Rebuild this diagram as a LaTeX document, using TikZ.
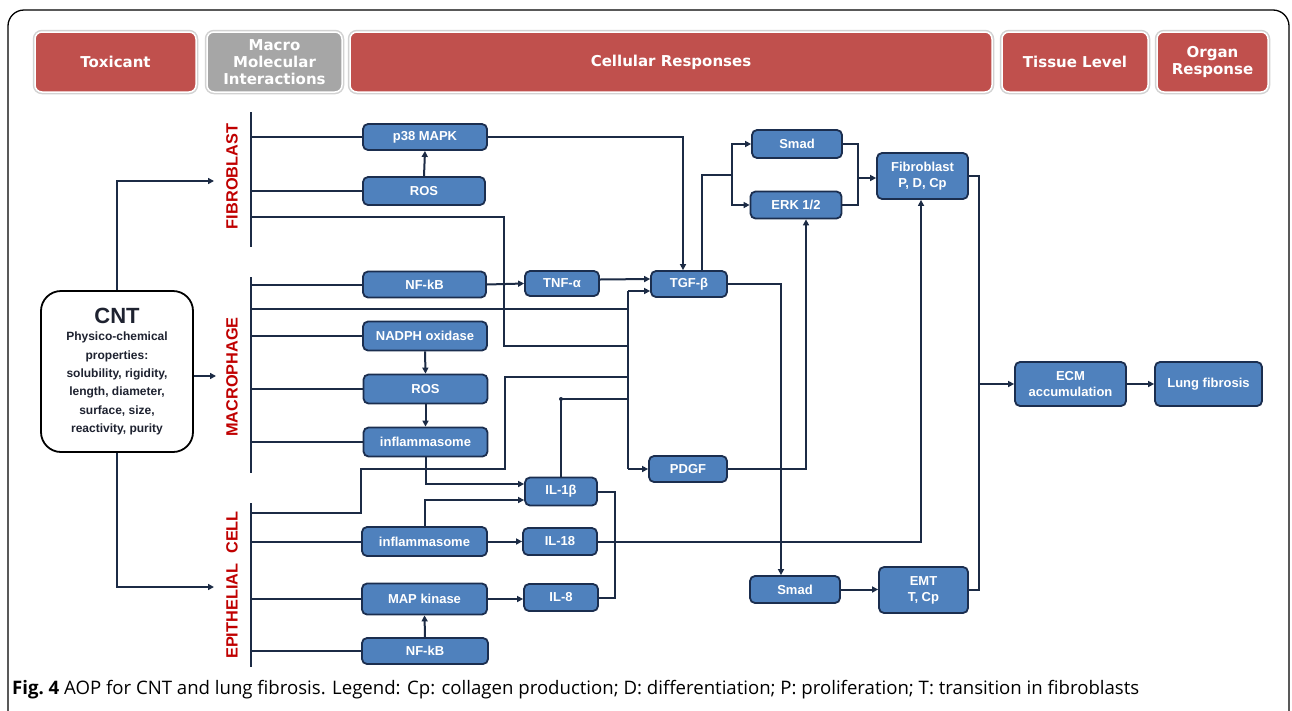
\documentclass[tikz,border=0pt]{standalone}
\usepackage{fontspec}
\setmainfont{Liberation Sans}
\newfontfamily\hdrfont{DejaVu Sans}
\newfontfamily\capfont{Open Sans}
\usetikzlibrary{arrows.meta,calc}
\definecolor{hred}{HTML}{C0504D}
\definecolor{hgray}{HTML}{A6A6A6}
\definecolor{hshadow}{HTML}{D2D2D2}
\definecolor{bblue}{HTML}{4F81BD}
\definecolor{bedge}{HTML}{1B2E4F}
\definecolor{lnc}{HTML}{1C2B45}
\definecolor{lblred}{HTML}{C00000}
\definecolor{cnttext}{HTML}{1E2230}
\begin{document}
\begin{tikzpicture}[x=1pt,y=-1pt,
  ln/.style={draw=lnc,line width=2pt},
  arr/.style={draw=lnc,line width=2pt,-{Triangle[length=6pt,width=6pt]}},
  bx/.style={rectangle,rounded corners=5pt,fill=bblue,draw=bedge,line width=1.8pt,
    text=white,font=\bfseries\fontsize{13}{16}\selectfont,inner sep=0pt,align=center},
  hdr/.style={rectangle,rounded corners=7pt,fill=hred,
    preaction={draw=hshadow,line width=4.5pt},draw=white,line width=1.5pt,
    text=white,font=\hdrfont\bfseries\fontsize{15}{17}\selectfont,inner sep=0pt,
    align=center,minimum height=60pt},
  vl/.style={rotate=90,text=lblred,font=\bfseries\fontsize{16.3}{18}\selectfont,inner sep=0pt},
]
\useasboundingbox (0,0) rectangle (1292,710);
\fill[white] (0,0) rectangle (1292,710);
% outer frame
\draw[black,line width=1.3pt,rounded corners=16pt] (8,740) -- (8,10) -- (1289,10) -- (1289,740);

% header
\node[hdr,minimum width=161pt] (h1) at (115.5,62) {Toxicant};
\node[hdr,fill=hgray,minimum width=135pt] (h2) at (274.5,62) {Macro\\Molecular\\Interactions};
\node[hdr,minimum width=642pt] (h3) at (671,62) {Cellular Responses};
\node[hdr,minimum width=146pt] (h4) at (1075,62) {Tissue Level};
\node[hdr,minimum width=111pt] (h5) at (1212.5,62) {Organ\\Response};

% CNT
\node[rectangle,rounded corners=20pt,draw=black,line width=1.8pt,fill=white,
  minimum width=152pt,minimum height=161pt,inner sep=0pt,align=center,text=cnttext,
  font=\bfseries\fontsize{12}{18.3}\selectfont] (cnt) at (117,371.5)
  {{\fontsize{22}{24}\selectfont CNT}\\[-1pt]Physico-chemical\\properties:\\solubility, rigidity,\\length, diameter,\\surface, size,\\reactivity, purity};

% vertical labels
\node[vl] (lf) at (232,176.5) {FIBROBLAST};
\node[vl] (lm) at (232,377) {MACROPHAGE};
\node[vl] (le) at (232,585) {EPITHELIAL\hspace{10pt}CELL};

% left column boxes
\node[bx,minimum width=124pt,minimum height=26pt] (p38) at (425,137) {p38 MAPK};
\node[bx,minimum width=122pt,minimum height=28pt] (ros1) at (424,191) {ROS};
\node[bx,minimum width=123pt,minimum height=26pt] (nfkb1) at (424.5,284.5) {NF-kB};
\node[bx,minimum width=124pt,minimum height=29pt] (nadph) at (425,336) {NADPH oxidase};
\node[bx,minimum width=124pt,minimum height=29pt] (ros2) at (425.5,389) {ROS};
\node[bx,minimum width=124pt,minimum height=29pt] (infl1) at (425.5,442) {inflammasome};
\node[bx,minimum width=125pt,minimum height=29pt] (infl2) at (424.5,541.5) {inflammasome};
\node[bx,minimum width=125pt,minimum height=31pt] (mapk) at (424.5,599) {MAP kinase};
\node[bx,minimum width=126pt,minimum height=26pt] (nfkb2) at (425,651) {NF-kB};

% middle column
\node[bx,minimum width=74pt,minimum height=25pt] (tnf) at (562,283.5) {TNF-α};
\node[bx,minimum width=72pt,minimum height=28pt] (il1b) at (561,491.5) {IL-1β};
\node[bx,minimum width=74pt,minimum height=27pt] (il18) at (560,541.5) {IL-18};
\node[bx,minimum width=74pt,minimum height=27pt] (il8) at (561,597.5) {IL-8};
\node[bx,minimum width=76pt,minimum height=26pt] (tgfb) at (689,284) {TGF-β};
\node[bx,minimum width=78pt,minimum height=26pt] (pdgf) at (688,469) {PDGF};

% right part
\node[bx,minimum width=90pt,minimum height=28pt] (smad1) at (797,144) {Smad};
\node[bx,minimum width=91pt,minimum height=27pt] (erk) at (796,205) {ERK 1/2};
\node[bx,minimum width=91pt,minimum height=46pt] (fibro) at (922.5,176) {Fibroblast\\P, D, Cp};
\node[bx,minimum width=90pt,minimum height=27pt] (smad2) at (795,589.5) {Smad};
\node[bx,minimum width=89pt,minimum height=46pt] (emt) at (923.5,590) {EMT\\T, Cp};
\node[bx,minimum width=111pt,minimum height=44pt] (ecm) at (1070.5,384) {ECM\\accumulation};
\node[bx,minimum width=107pt,minimum height=44pt] (lung) at (1208.5,384) {Lung fibrosis};

% bars
\coordinate (fbT) at (251,112); \coordinate (fbB) at (251,247);
\coordinate (mbT) at (251,277); \coordinate (mbB) at (251,473);
\coordinate (ebT) at (251,503); \coordinate (ebB) at (251,667);
\draw[ln] (fbT) -- (fbB);
\draw[ln] (mbT) -- (mbB);
\draw[ln] (ebT) -- (ebB);

% CNT connectors (pointing at the cell-type labels)
\coordinate (fin) at (214,181);
\coordinate (ein) at (214,587);
\coordinate (min) at (216,376);
\draw[arr] (cnt.north) |- (fin);
\draw[arr] (cnt.south) |- (ein);
\draw[arr] (cnt.east |- min) -- (min);

% fibroblast branches
\draw[ln] (fbT |- p38.west) -- (p38.west);
\draw[ln] (fbT |- ros1.west) -- (ros1.west);
\draw[arr] (ros1.north) -- (p38.south);

% collector
\coordinate (cT) at (628,291);
\coordinate (cB) at (628,469);
\draw[ln] (cT) -- (cB);
\draw[arr] (cT) -- (cT -| tgfb.west);
\draw[arr] (cB) -- (pdgf.west);

\coordinate (f3) at (251,217);
\coordinate (f3a) at (504,217);
\coordinate (f3b) at (504,346);
\draw[ln] (f3) -- (f3a) -- (f3b) -- (f3b -| cT);

% macrophage branches
\draw[ln] (mbT |- nfkb1.west) -- (nfkb1.west);
\draw[ln] (mbT |- nadph.west) -- (nadph.west);
\draw[ln] (mbT |- ros2.west) -- (ros2.west);
\draw[ln] (mbT |- infl1.west) -- (infl1.west);
\coordinate (m2) at (251,309);
\draw[ln] (m2) -- (m2 -| cT);
\draw[arr] (nadph.south) -- (ros2.north);
\draw[arr] (ros2.south) -- (infl1.north);
\draw[arr] (nfkb1.east) -- (tnf.west);
\draw[arr] ($(tnf.east)+(0,-4)$) -- ($(tgfb.west)+(0,-5)$);
\draw[arr] (infl1.south) |- ($(il1b.west)+(0,-7.5)$);

% epithelial branches
\coordinate (e1) at (251,513);
\coordinate (e1a) at (361,513);
\coordinate (e1b) at (361,469);
\coordinate (e1c) at (505,469);
\coordinate (e1d) at (505,377);
\draw[ln] (e1) -- (e1a) -- (e1b) -- (e1c) -- (e1d) -- (e1d -| cT);
\draw[ln] (ebT |- infl2.west) -- (infl2.west);
\draw[ln] (ebT |- mapk.west) -- (mapk.west);
\draw[ln] (ebT |- nfkb2.west) -- (nfkb2.west);
\draw[arr] (nfkb2.north) -- (mapk.south);
\draw[arr] (infl2.north) |- ($(il1b.west)+(0,8.5)$);
\draw[arr] (infl2.east) -- (il18.west);
\draw[arr] (mapk.east) -- (mapk.east -| il8.west);

% IL-1b to collector
\coordinate (ilc) at (561,399);
\draw[ln] (il1b.north) -- (ilc) -- (ilc -| cT);
\fill[lnc] (ilc) circle (2pt);
% IL-1b / IL-8 link
\coordinate (iv) at (615,491.5);
\draw[ln] (il1b.east) -- (iv) |- (il8.east);
% IL-18 to fibroblast
\draw[arr] (il18.east) -| ($(fibro.south)+(-1.5,0)$);

% p38 to TGF
\draw[arr] (p38.east) -| ($(tgfb.north)+(-6,0)$);
% TGF split
\coordinate (sp) at ($(tgfb.north)+(13,0)$);
\coordinate (sv) at (732,175);
\draw[ln] (sp) |- (sv);
\draw[arr] (sv) |- (smad1.west);
\draw[arr] (sv) |- (erk.west);
% join to fibroblast
\coordinate (jn) at (858,178);
\draw[ln] (smad1.east) -| (jn);
\draw[ln] (erk.east) -| (jn);
\draw[arr] (jn) -- (jn -| fibro.west);
% TGF to Smad2, PDGF to ERK
\draw[arr] (tgfb.east) -| ($(smad2.north)+(-14,0)$);
\draw[arr] (pdgf.east) -| ($(erk.south)+(10,0)$);
\draw[arr] (smad2.east) -- (smad2.east -| emt.west);
% to ECM
\coordinate (rv) at (979,384);
\draw[ln] (fibro.east) -| (rv);
\draw[ln] (emt.east) -| (rv);
\draw[arr] (rv) -- (ecm.west);
\draw[arr] (ecm.east) -- (lung.west);

% caption
\node[anchor=west,inner sep=0pt,font=\capfont\fontsize{18.6}{21}\selectfont,text=black] (cap) at (12,690)
  {{\bfseries Fig.\ 4} AOP for CNT and lung fibrosis. Legend: Cp: collagen production; D: differentiation; P: proliferation; T: transition in fibroblasts};
\end{tikzpicture}
\end{document}
